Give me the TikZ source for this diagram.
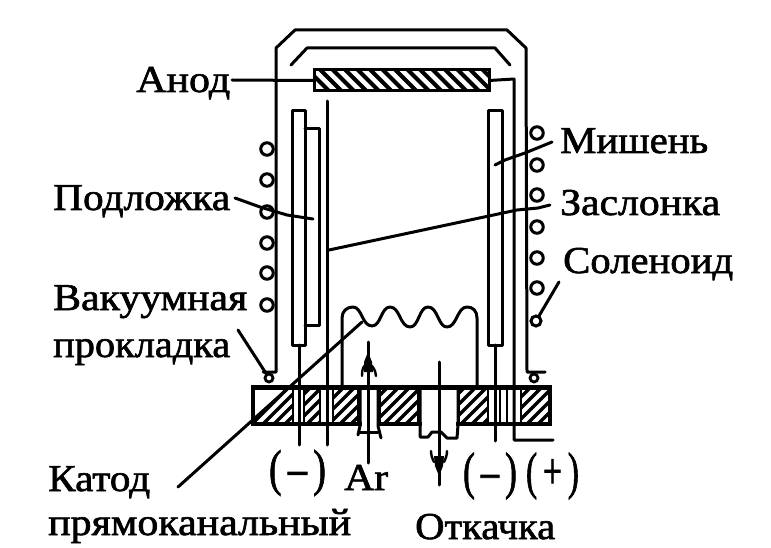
\documentclass[tikz,border=0pt]{standalone}
\usepackage{fontspec}
\usepackage{graphicx}
\newfontfamily\lblfont[FakeBold=1.6]{Liberation Serif}
\newcommand{\lbl}[2]{\resizebox{#1pt}{\height}{#2}}
\tikzset{
  ln/.style={line width=3pt,line join=round,line cap=round},
  thin ln/.style={line width=2.4pt,line cap=round,line join=round},
  hatch/.style={line width=3.4pt},
  coil/.style={circle,draw,line width=3pt,fill=white,minimum size=12.5pt,inner sep=0pt},
  seal/.style={circle,draw,line width=2.8pt,fill=white,minimum size=8pt,inner sep=0pt},
  lab/.style={anchor=base west,inner sep=0pt,font=\fontsize{38}{38}\lblfont},
  sign/.style={anchor=center,inner sep=0pt,font=\fontsize{40}{40}\lblfont},
}
\begin{document}
\begin{tikzpicture}[x=1pt,y=-1pt]
\useasboundingbox (0,0) rectangle (771,548);
\fill[white] (0,0) rectangle (771,548);

% bell jar
\draw[ln] (263,372) -- (276,372) -- (276,48) -- (295,30) -- (507,30) -- (526,48) -- (527,372) -- (545,372);
% shield
\draw[ln] (291,65) -- (307,48) -- (495,48) -- (510,65);

% anode
\node[minimum width=175pt,minimum height=21pt,inner sep=0pt] (anode) at (401.5,80.5) {};
\begin{scope}
\clip (314,70) rectangle (489,91);
\foreach \k in {0,...,15}{\draw[line width=4pt] ({306+\k*12.5},68) -- ++(25,25);}
\end{scope}
\draw[line width=3pt] (314,70) rectangle (489,91);

% coils
\foreach \n/\y in {1/149,2/180,3/212,4/243,5/273,6/305}{\node[coil] (cl\n) at (267,\y) {};}
\foreach \n/\y in {1/133,2/165,3/195,4/227,5/258,6/288}{\node[coil] (cr\n) at (537,\y) {};}
\node[coil,minimum size=10pt] (cr7) at (536,321) {};

% target plates and substrate
\draw[ln] (292,111) rectangle (305,345);
\draw[ln] (305,129) -- (319,129) -- (319,325) -- (305,325);
\draw[ln] (488,111) rectangle (502,345);
\coordinate (shieldTop) at (327,101);
\coordinate (shieldEnd) at (327,445);
\draw[ln] (shieldTop) -- (shieldEnd);

% base
\begin{scope}
\clip (253,387) rectangle (550,424);
\foreach \a/\b in {253/292,305/320,333/358,380/418,460/488,522/548}{
  \begin{scope}
    \clip (\a,387) rectangle (\b,424);
    \foreach \k in {0,...,32}{\draw[hatch] ({250+\k*11},426) -- ++(42,-42);}
  \end{scope}}
\end{scope}
\draw[line width=3.5pt] (253,387) rectangle (550,424);
\draw[line width=5pt] (253,387) -- (550,387);
\foreach \x in {293,304,320,333,358,380,418,459,488,500,507,521}{\draw[line width=2.4pt] (\x,387) -- (\x,424);}
\fill[white] (421.5,390) rectangle (455.5,426);
\fill[white] (361.5,390) rectangle (376.5,426);

% seals
\node[seal] (sl) at (269,378) {};
\node[seal] (sr) at (534,378) {};

% pins
\coordinate (pinL) at (299,445);
\coordinate (pinR) at (495,441);
\draw[ln] (299,345) -- (pinL);
\draw[ln] (495,345) -- (pinR);
\draw[ln] (anode.east) -- (514,79) -- (514,440) -- (553,440);

% filament
\draw[ln] (342,386) -- (342,318) .. controls (342,311) and (347,307) .. (353,307)
 .. controls (362,307) and (362,326) .. (372,326)
 .. controls (381,326) and (381,307) .. (390,307)
 .. controls (400,307) and (400,327) .. (410,327)
 .. controls (419,327) and (419,307) .. (428,307)
 .. controls (438,307) and (438,327) .. (447,327)
 .. controls (457,327) and (457,307) .. (467,307)
 .. controls (473,307) and (477,311) .. (477,318) -- (477,386);

% Ar tube
\draw[ln] (360,388) -- (360,426) -- (358,435);
\draw[ln] (378,388) -- (378,426) -- (381,438);
\draw[ln] (360,432) -- (378,432);
\coordinate (arS) at (368,463);
\coordinate (arE) at (368,342);
\draw[ln] (arS) -- (arE);
\fill (368,352) -- (372,362) -- (373,372) -- (364,372) -- (364,362) -- cycle;
\draw[thin ln] (364,366) .. controls (362,370) and (362,373) .. (362,376);
\draw[thin ln] (372,366) .. controls (375,370) and (376,373) .. (376,376);

% pump tube
\draw[ln] (420,388) -- (420,437) -- (428,437) -- (432,432) -- (441,432) -- (447,438) -- (457,438) -- (458,425) -- (458,388);
\coordinate (puS) at (439,362);
\coordinate (puE) at (439,485);
\draw[ln] (puS) -- (puE);
\fill (439,476) -- (443,466) -- (444,456) -- (434,456) -- (435,466) -- cycle;
\draw[thin ln] (434,462) .. controls (432,458) and (431,455) .. (431,451);
\draw[thin ln] (444,462) .. controls (446,458) and (447,455) .. (447,451);

% labels
\node[lab] (lAnod) at (136,92) {\lbl{94}{Анод}};
\node[lab] (lMish) at (560,153) {\lbl{148}{Мишень}};
\node[lab] (lZasl) at (560,215) {\lbl{160}{Заслонка}};
\node[lab] (lSol) at (563,273) {\lbl{170}{Соленоид}};
\node[lab] (lPod) at (53,210) {\lbl{177}{Подложка}};
\node[lab] (lVak) at (53,310) {\lbl{194}{Вакуумная}};
\node[lab] (lPro) at (53,357) {\lbl{177}{прокладка}};
\node[lab] (lKat) at (48,491) {\lbl{102}{Катод}};
\node[lab] (lPry) at (48,535) {\lbl{303}{прямоканальный}};
\node[lab] (lOtk) at (415,539) {\lbl{140}{Откачка}};
\node[lab] (lAr) at (344,490) {\lbl{44}{Ar}};
\node[sign] (mA) at (297.5,473) {\resizebox*{57pt}{46pt}{(\,–\,)}};
\node[sign] (mB) at (490,476) {\resizebox*{54pt}{47pt}{(\,–\,)}};
\node[sign] (mC) at (552.5,476) {\resizebox*{53pt}{47pt}{(\,+\,)}};

% leaders
\coordinate (tAnode) at (232,80);
\draw[ln] (tAnode) -- (anode.west);
\coordinate (a1) at (552,142);
\coordinate (a2) at (495,165);
\draw[ln] (a1) -- (525,153) -- (505,160) -- (a2);
\coordinate (b1) at (550,205);
\coordinate (b2) at (329,250);
\draw[ln] (b1) -- (538,208) -- (517,210) -- (b2);
\coordinate (c1) at (559,282);
\draw[ln] (c1) -- (cr7);
\coordinate (d1) at (235,198);
\coordinate (d2) at (313,219);
\draw[ln] (d1) -- (260,207) -- (287,215) -- (d2);
\coordinate (e1) at (238,330);
\draw[ln] (e1) -- (sl);
\coordinate (f1) at (178,487);
\coordinate (f2) at (362,322);
\draw[ln] (f1) -- (f2);
\end{tikzpicture}
\end{document}
